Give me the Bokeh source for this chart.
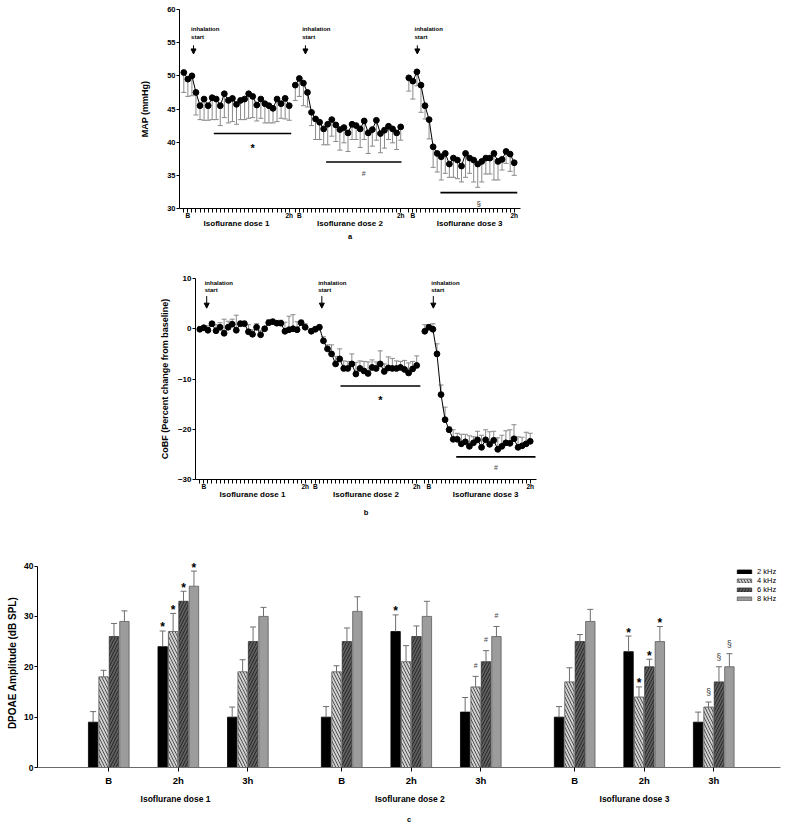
import numpy as np
from bokeh.plotting import figure
from bokeh.models import (ColumnDataSource, FixedTicker, Range1d, Arrow, NormalHead,
                          LabelSet, Legend, LegendItem, LinearAxis)
from bokeh.layouts import column
from bokeh.embed import file_html
from bokeh.resources import INLINE
from bokeh.core.properties import value

FONT = "Liberation Sans"

# ------------------------------------------------------------------ data
dose_names = ["Isoflurane dose 1", "Isoflurane dose 2", "Isoflurane dose 3"]
inhalation_text = ["inhalation", "start"]
axis_time_labels = ["B", "2h"]

# (a) MAP (mmHg), 27 readings per dose, error bar = SD (drawn downward)
map_dose1 = [50.5, 49.5, 50.0, 47.5, 45.5, 46.5, 45.5, 46.7, 46.5, 45.5, 47.3, 46.3, 46.6, 45.7,
             46.3, 46.5, 47.3, 46.9, 45.6, 46.5, 45.8, 45.5, 45.1, 46.5, 45.8, 46.6, 45.5]
map_sd_dose1 = [3.0, 2.6, 3.0, 3.4, 2.1, 3.2, 2.2, 3.3, 3.1, 3.0, 3.6, 3.4, 3.5, 3.0,
                2.9, 3.1, 3.7, 3.2, 2.4, 2.9, 2.9, 2.6, 2.2, 3.4, 2.2, 3.1, 2.2]
map_dose2 = [48.6, 49.6, 48.9, 47.5, 44.5, 43.5, 43.0, 42.0, 42.7, 43.4, 42.6, 41.9, 42.2, 41.4,
             42.7, 42.5, 42.0, 43.2, 41.4, 41.9, 43.3, 41.3, 41.8, 42.4, 42.0, 41.4, 42.3]
map_sd_dose2 = [2.3, 2.7, 3.4, 2.2, 2.0, 3.1, 2.6, 2.4, 3.1, 2.5, 2.5, 3.1, 2.3, 2.8,
                2.3, 2.1, 2.8, 2.8, 3.1, 2.5, 3.0, 2.9, 2.7, 2.0, 2.1, 2.5, 2.0]
map_dose3 = [49.7, 49.2, 50.6, 48.6, 45.5, 43.4, 39.3, 38.3, 37.8, 38.3, 36.7, 37.6, 37.3, 36.4,
             38.3, 37.6, 37.3, 36.7, 37.1, 37.6, 37.6, 38.3, 37.1, 37.4, 38.6, 38.2, 36.9]
map_sd_dose3 = [2.0, 2.7, 2.1, 4.1, 2.0, 2.9, 3.1, 2.8, 3.5, 3.0, 2.0, 2.9, 2.8, 2.4,
                3.6, 2.3, 3.3, 3.5, 3.1, 2.4, 2.4, 4.0, 2.8, 1.6, 1.8, 2.6, 1.9]
map_ticks = [30, 35, 40, 45, 50, 55, 60]
map_sig_symbols = ["*", "#", "§"]
map_sig_level = [41.3, 37.0, 32.4]

# (b) CoBF, percent change from baseline, error bar = SD (drawn upward)
cobf_dose1 = [-0.1, 0.2, -0.3, 1.0, -0.4, 0.3, -0.9, 0.3, 0.9, -0.3, 1.0, 1.0, -0.6, -1.1,
              0.3, -1.2, 0.0, 1.2, 1.4, 1.1, 1.1, -0.5, -0.2, 0.0, -0.2, 1.2, 0.3]
cobf_sd_dose1 = [0.4, 0.3, 0.9, 0.4, 1.2, 0.9, 2.8, 1.2, 1.0, 3.0, 0.5, 0.5, 1.4, 0.9,
                 0.7, 0.9, 0.3, 0.6, 0.5, 0.3, 0.6, 1.8, 2.7, 2.8, 1.6, 0.5, 0.7]
cobf_dose2 = [-0.5, -0.1, 0.3, -2.4, -4.0, -5.0, -7.0, -6.0, -7.9, -7.9, -7.0, -9.0, -7.9, -8.4,
              -8.9, -7.7, -7.9, -7.0, -8.5, -7.8, -7.9, -7.9, -7.7, -8.1, -8.8, -8.0, -7.3]
cobf_sd_dose2 = [0.5, 0.4, 0.4, 0.8, 0.8, 1.8, 1.5, 2.0, 1.5, 1.4, 2.0, 2.3, 1.5, 1.9,
                 2.3, 1.5, 1.3, 2.6, 1.5, 2.2, 2.0, 1.5, 1.2, 1.8, 2.0, 1.5, 1.9]
cobf_dose3 = [-0.5, 0.3, -0.1, -5.0, -13.1, -18.1, -20.1, -22.0, -22.0, -22.9, -22.5, -23.4, -22.7,
              -22.1, -23.6, -22.1, -23.0, -22.2, -24.0, -23.4, -22.7, -22.8, -21.9, -23.6, -23.3,
              -22.9, -22.4]
cobf_sd_dose3 = [1.3, 0.5, 1.1, 2.0, 1.9, 2.5, 0.6, 1.9, 1.2, 1.9, 1.5, 2.1, 1.2, 1.7,
                 2.4, 2.0, 2.5, 1.8, 2.3, 2.2, 2.4, 2.7, 2.8, 2.1, 1.7, 2.3, 1.6]
cobf_ticks = [-30, -20, -10, 0, 10]
cobf_sig_symbols = [None, "*", "#"]
cobf_sig_level = [None, -11.4, -25.5]

# (c) DPOAE amplitude (dB SPL): 9 time points (B, 2h, 3h for each dose)
time_points = ["B", "2h", "3h"]
freq_names = ["2 kHz", "4 kHz", "6 kHz", "8 kHz"]
dp_2k = [9, 24, 10, 10, 27, 11, 10, 23, 9]
dp_4k = [18, 27, 19, 19, 21, 16, 17, 14, 12]
dp_6k = [26, 33, 25, 25, 26, 21, 25, 20, 17]
dp_8k = [29, 36, 30, 31, 30, 26, 29, 25, 20]
dp_sd_2k = [2.1, 3.1, 2.0, 2.1, 3.3, 2.9, 2.1, 3.1, 2.0]
dp_sd_4k = [1.3, 3.6, 2.4, 1.2, 3.2, 2.1, 2.8, 2.0, 1.0]
dp_sd_6k = [2.6, 2.0, 2.9, 2.7, 2.1, 2.2, 1.4, 1.5, 3.0]
dp_sd_8k = [2.1, 3.0, 1.8, 2.9, 3.0, 2.0, 2.4, 3.0, 2.6]
dp_ticks = [0, 10, 20, 30, 40]
sig_group = [1, 1, 1, 1, 4, 5, 5, 5, 7, 7, 7, 7, 8, 8, 8]
sig_freq = [0, 1, 2, 3, 0, 1, 2, 3, 0, 1, 2, 3, 1, 2, 3]
sig_symbol = ["*", "*", "*", "*", "*", "#", "#", "#", "*", "*", "*", "*", "§", "§", "§"]

# ------------------------------------------------------------------ layout constants
W = 786
STEP = 2                       # x units between readings
DOSE_START = [0, 55, 111]      # first reading of each dose
B_INDEX = 1
XR_AB = (-2.12, 166.1)
ERR = "#8a8a8a"


def dose_x(k, n):
    return [DOSE_START[k] + STEP * i for i in range(n)]


def style_axes(p, tick_font, ylab_font, ylab_standoff):
    p.grid.visible = False
    p.outline_line_color = None
    p.background_fill_color = "white"
    p.border_fill_color = "white"
    for ax in (p.xaxis[0], p.yaxis[0]):
        ax.axis_line_color = "black"
        ax.major_tick_line_color = "black"
        ax.minor_tick_line_color = None
        ax.major_tick_in = 0
        ax.major_label_text_font = FONT
        ax.major_label_text_font_style = "bold"
        ax.major_label_text_color = "black"
        ax.axis_label_text_font = FONT
        ax.axis_label_text_font_style = "bold"
        ax.axis_label_text_color = "black"
    p.yaxis.major_tick_out = 3
    p.yaxis.major_label_standoff = 1
    p.yaxis.major_label_text_font_size = tick_font
    p.yaxis.axis_label_text_font_size = ylab_font
    p.yaxis.axis_label_standoff = ylab_standoff


def name_axis(p, centers, names, font, standoff, letter, letter_standoff):
    ax = LinearAxis(ticker=FixedTicker(ticks=centers),
                    major_label_overrides={c: n for c, n in zip(centers, names)},
                    major_tick_out=0, major_tick_in=0, minor_tick_out=0, minor_tick_in=0,
                    axis_line_color=None, major_tick_line_color=None, minor_tick_line_color=None,
                    major_label_standoff=standoff, major_label_text_font=FONT,
                    major_label_text_font_style="bold", major_label_text_font_size=font,
                    major_label_text_color="black",
                    axis_label=letter, axis_label_standoff=letter_standoff,
                    axis_label_text_font=FONT, axis_label_text_font_style="bold",
                    axis_label_text_font_size="7.5px", axis_label_text_color="black")
    p.add_layout(ax, "below")


def labels(p, xs, ys, texts, size, bold=True, align="center", color="black"):
    src = ColumnDataSource(dict(x=xs, y=ys, t=texts))
    p.add_layout(LabelSet(x="x", y="y", text="t", source=src, text_font=value(FONT),
                          text_font_size=size, text_font_style="bold" if bold else "normal",
                          text_align=align, text_baseline="middle", text_color=color))


def timecourse(series, sds, sign, yr, yticks, ylabel, geom, txt):
    height, left, right, top, bottom = geom
    frame_h = height - top - bottom
    upx = (yr[1] - yr[0]) / frame_h
    p = figure(width=W, height=height, x_range=Range1d(*XR_AB), y_range=Range1d(*yr),
               output_backend="svg", toolbar_location=None,
               min_border_left=left, min_border_right=right,
               min_border_top=top, min_border_bottom=bottom)
    p.frame_align = False
    all_x, overrides = [], {}
    for k in range(3):
        n = len(series[k])
        xs = dose_x(k, n)
        m = np.array(series[k], dtype=float)
        e = m + sign * np.array(sds[k], dtype=float)
        p.segment(xs, m, xs, e, line_color=ERR, line_width=1)
        p.scatter(xs, e, marker="dash", size=5, line_color=ERR, line_width=1)
        p.line(xs, m, line_color="black", line_width=1)
        p.scatter(xs, m, size=5.8, fill_color="black", line_color="black")
        all_x += xs
        for x in xs:
            overrides[x] = ""
        overrides[xs[B_INDEX]] = axis_time_labels[0]
        overrides[xs[-1]] = axis_time_labels[1]
        # inhalation start annotation
        tx = DOSE_START[k] + txt["text_off"][k]
        labels(p, [tx, tx], txt["text_y"], inhalation_text, "6px", align="left")
        ax_ = DOSE_START[k] + txt["arrow_off"][k]
        p.add_layout(Arrow(end=NormalHead(size=5, fill_color="black", line_color="black"),
                           x_start=ax_, y_start=txt["arrow_y"][0], x_end=ax_, y_end=txt["arrow_y"][1],
                           line_color="black", line_width=1))
        # significance bar
        sym = txt["sig_sym"][k]
        if sym is not None:
            x0 = DOSE_START[k] + STEP * txt["sig_span"][k][0]
            x1 = DOSE_START[k] + STEP * txt["sig_span"][k][1]
            lvl = txt["sig_lvl"][k]
            p.segment([x0], [lvl], [x1], [lvl], line_color="black", line_width=1.6)
            off_px, size, bold, col = txt["sig_fmt"][sym]
            labels(p, [(x0 + x1) / 2], [lvl - off_px * upx], [sym], size, bold=bold, color=col)
    style_axes(p, txt["tick_font"], "9px", txt["ylab_standoff"])
    p.xaxis.ticker = FixedTicker(ticks=all_x)
    p.xaxis.major_label_overrides = overrides
    p.xaxis.major_tick_out = 4
    p.xaxis.major_label_standoff = -1
    p.xaxis.major_label_text_font_size = "6.5px"
    p.yaxis.ticker = FixedTicker(ticks=yticks)
    p.yaxis.axis_label = ylabel
    name_axis(p, [DOSE_START[k] + c for k, c in enumerate(txt["dose_c"])], dose_names, "8px",
              -3, txt["letter"], txt["letter_standoff"])
    return p


sig_fmt = {"*": (14.0, "11px", True, "black"), "#": (11.0, "7px", False, "#444444"),
           "§": (10.5, "8px", False, "#333333")}

pa = timecourse([map_dose1, map_dose2, map_dose3], [map_sd_dose1, map_sd_dose2, map_sd_dose3], -1,
                (30, 60), map_ticks, "MAP (mmHg)", (245, 179, 266, 9, 37),
                dict(text_off=[3.6, 3.4, 2.8], text_y=[57.1, 55.9], arrow_off=[4.8, 5.0, 4.2],
                     arrow_y=[54.6, 53.3], sig_sym=map_sig_symbols, sig_lvl=map_sig_level,
                     sig_span=[(7.4, 26.5), (7.6, 26.2), (7.8, 26.75)], sig_fmt=sig_fmt,
                     tick_font="7.5px", ylab_standoff=14, dose_c=[26, 27, 30],
                     letter="a", letter_standoff=1))

pb = timecourse([cobf_dose1, cobf_dose2, cobf_dose3], [cobf_sd_dose1, cobf_sd_dose2, cobf_sd_dose3], 1,
                (-30, 10), cobf_ticks, "CoBF (Percent change from baseline)", (275, 195, 250, 33, 41),
                dict(text_off=[2.4, 3.4, 3.2], text_y=[9.2, 7.7], arrow_off=[3.4, 5.2, 4.2],
                     arrow_y=[6.5, 4.1], sig_sym=cobf_sig_symbols, sig_lvl=cobf_sig_level,
                     sig_span=[None, (7.2, 26.9), (7.75, 27.3)], sig_fmt=sig_fmt,
                     tick_font="8px", ylab_standoff=5, dose_c=[26, 27, 30],
                     letter="b", letter_standoff=6))

# ------------------------------------------------------------------ panel c
C_H, C_L, C_R, C_T, C_B = 308, 37, 6, 38, 61
XR_C = (-102.5, 966)
YR_C = (0, 41.5)
DOSE_PITCH, TIME_PITCH = 335, 100
BAR_OFF = [-22.5, -7.5, 7.5, 22.5]
BAR_W = 13.5

pc = figure(width=W, height=C_H, x_range=Range1d(*XR_C), y_range=Range1d(*YR_C),
            output_backend="svg", toolbar_location=None,
            min_border_left=C_L, min_border_right=C_R, min_border_top=C_T, min_border_bottom=C_B)
pc.frame_align = False
group_x = [d * DOSE_PITCH + t * TIME_PITCH for d in range(3) for t in range(3)]
vals = [dp_2k, dp_4k, dp_6k, dp_8k]
sds = [dp_sd_2k, dp_sd_4k, dp_sd_6k, dp_sd_8k]
bar_styles = [
    dict(fill_color="black", line_color="black"),
    dict(fill_color="#d0d0d0", line_color="#555555", hatch_pattern="left_diagonal_line",
         hatch_color="#1a1a1a", hatch_scale=6, hatch_weight=0.7),
    dict(fill_color="#5e5e5e", line_color="#333333", hatch_pattern="right_diagonal_line",
         hatch_color="#111111", hatch_scale=6, hatch_weight=0.7),
    dict(fill_color="#9c9c9c", line_color="#5a5a5a"),
]
rends = []
for f in range(4):
    xs = [g + BAR_OFF[f] for g in group_x]
    r = pc.vbar(x=xs, top=vals[f], bottom=0, width=BAR_W, line_width=0.8, **bar_styles[f])
    rends.append(r)
    tops = np.array(vals[f], dtype=float) + np.array(sds[f], dtype=float)
    pc.segment(xs, vals[f], xs, tops, line_color="#6e6e6e", line_width=1)
    pc.scatter(xs, tops, marker="dash", size=6, line_color="#6e6e6e", line_width=1)

sig_gap = {"*": 0.7, "#": 2.2, "§": 2.0}
sig_look = {"*": ("12px", True, "black"), "#": ("7px", False, "#444444"), "§": ("8.5px", False, "#333333")}
for sym in ["*", "#", "§"]:
    sx, sy = [], []
    for g, f, s in zip(sig_group, sig_freq, sig_symbol):
        if s == sym:
            sx.append(group_x[g] + BAR_OFF[f])
            sy.append(vals[f][g] + sds[f][g] + sig_gap[sym])
    size, bold, col = sig_look[sym]
    labels(pc, sx, sy, [sym] * len(sx), size, bold=bold, color=col)

legend = Legend(items=[LegendItem(label=freq_names[f], renderers=[rends[f]]) for f in range(4)],
                location=(698, 164), border_line_color=None, background_fill_alpha=0,
                label_text_font=FONT, label_text_font_size="7.5px", label_text_color="black",
                label_text_line_height=0.7, glyph_width=18, glyph_height=5,
                label_height=5, spacing=0, padding=0, margin=0, label_standoff=4)
pc.add_layout(legend)

style_axes(pc, "8.5px", "10px", 3)
pc.yaxis.ticker = FixedTicker(ticks=dp_ticks)
pc.yaxis.bounds = (dp_ticks[0], dp_ticks[-1])
pc.yaxis.axis_label = "DPOAE Amplitude (dB SPL)"
pc.xaxis.ticker = FixedTicker(ticks=group_x)
pc.xaxis.major_label_overrides = {gx: time_points[i % 3] for i, gx in enumerate(group_x)}
pc.xaxis.major_tick_out = 4
pc.xaxis.major_label_standoff = 3
pc.xaxis.major_label_text_font_size = "9.5px"
pc.xaxis.axis_line_color = "#6a6a6a"
name_axis(pc, [d * DOSE_PITCH + c for d, c in enumerate([96, 98, 86])], dose_names, "8.5px",
          5, "c", 8)

layout = column(pa, pb, pc)
open("out.html", "w").write(file_html(layout, INLINE))
